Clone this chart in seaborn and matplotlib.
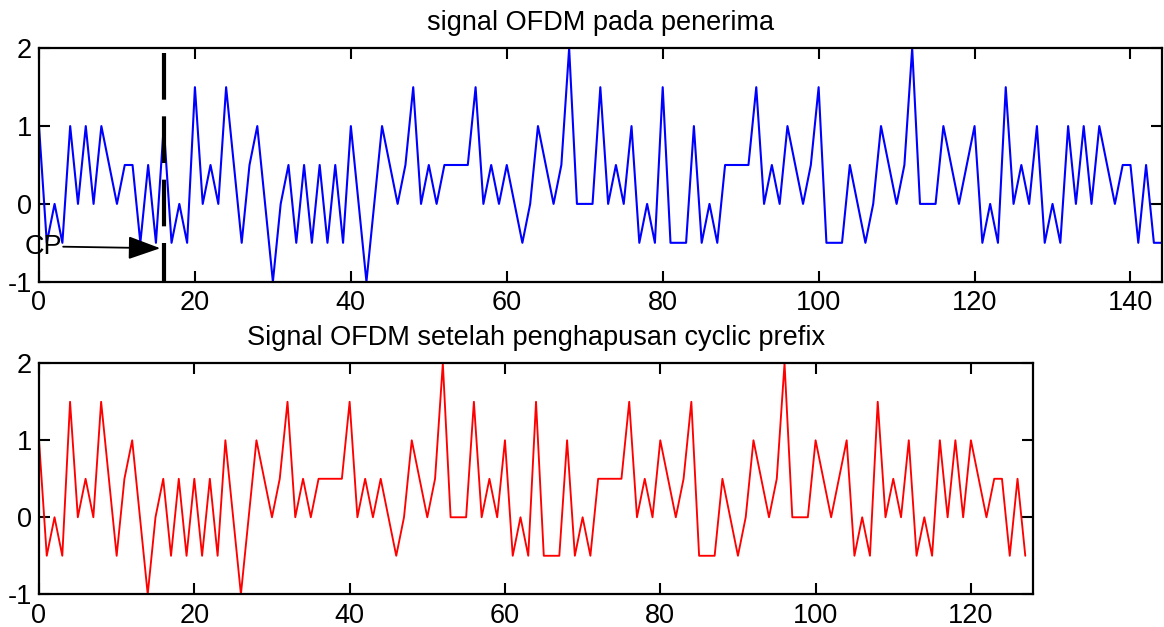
import numpy as np
import pandas as pd
import matplotlib
matplotlib.use("Agg")
import matplotlib.pyplot as plt
import seaborn as sns

# ---- data ----
rx_signal = [1, -0.5, 0, -0.5, 1, 0, 1, 0, 1, 0.5, 0, 0.5, 0.5, -0.5, 0.5, -0.5,
             1, -0.5, 0, -0.5, 1.5, 0, 0.5, 0, 1.5, 0.5, -0.5, 0.5, 1, 0, -1, 0,
             0.5, -0.5, 0.5, -0.5, 0.5, -0.5, 0.5, -0.5, 1, 0, -1, 0, 1, 0.5, 0, 0.5,
             1.5, 0, 0.5, 0, 0.5, 0.5, 0.5, 0.5, 1.5, 0, 0.5, 0, 0.5, 0, -0.5, 0,
             1, 0.5, 0, 0.5, 2, 0, 0, 0, 1.5, 0, 0.5, 0, 1, -0.5, 0, -0.5,
             1.5, -0.5, -0.5, -0.5, 1, -0.5, 0, -0.5, 0.5, 0.5, 0.5, 0.5, 1.5, 0, 0.5, 0,
             1, 0.5, 0, 0.5, 1.5, -0.5, -0.5, -0.5, 0.5, 0, -0.5, 0, 1, 0.5, 0, 0.5,
             2, 0, 0, 0, 1, 0.5, 0, 0.5, 1, -0.5, 0, -0.5, 1.5, 0, 0.5, 0,
             1, -0.5, 0, -0.5, 1, 0, 1, 0, 1, 0.5, 0, 0.5, 0.5, -0.5, 0.5, -0.5,
             -0.5]

signal_no_cp = [1, -0.5, 0, -0.5, 1.5, 0, 0.5, 0, 1.5, 0.5, -0.5, 0.5, 1, 0, -1, 0,
                0.5, -0.5, 0.5, -0.5, 0.5, -0.5, 0.5, -0.5, 1, 0, -1, 0, 1, 0.5, 0, 0.5,
                1.5, 0, 0.5, 0, 0.5, 0.5, 0.5, 0.5, 1.5, 0, 0.5, 0, 0.5, 0, -0.5, 0,
                1, 0.5, 0, 0.5, 2, 0, 0, 0, 1.5, 0, 0.5, 0, 1, -0.5, 0, -0.5,
                1.5, -0.5, -0.5, -0.5, 1, -0.5, 0, -0.5, 0.5, 0.5, 0.5, 0.5, 1.5, 0, 0.5, 0,
                1, 0.5, 0, 0.5, 1.5, -0.5, -0.5, -0.5, 0.5, 0, -0.5, 0, 1, 0.5, 0, 0.5,
                2, 0, 0, 0, 1, 0.5, 0, 0.5, 1, -0.5, 0, -0.5, 1.5, 0, 0.5, 0,
                1, -0.5, 0, -0.5, 1, 0, 1, 0, 1, 0.5, 0, 0.5, 0.5, -0.5, 0.5, -0.5]

cp_length = 16
top_xticks = [0, 20, 40, 60, 80, 100, 120, 140]
bottom_xticks = [0, 20, 40, 60, 80, 100, 120]
yticks = [-1, 0, 1, 2]
title_top = "signal OFDM pada penerima"
title_bottom = "Signal OFDM setelah penghapusan cyclic prefix"
cp_label = "CP"

# ---- style ----
sns.set_theme(style="white")
plt.rcParams['font.family'] = ['Liberation Sans', 'DejaVu Sans']
plt.rcParams['axes.unicode_minus'] = False
FS = 19.5

fig = plt.figure(figsize=(11.64, 6.27), dpi=100)
fig.patch.set_facecolor('white')
ax1 = fig.add_axes([0.0335, 0.5507, 0.9645, 0.3723])
ax2 = fig.add_axes([0.0335, 0.0522, 0.8540, 0.3684])

df1 = pd.DataFrame({"n": np.arange(len(rx_signal)), "v": rx_signal})
df2 = pd.DataFrame({"n": np.arange(len(signal_no_cp)), "v": signal_no_cp})

sns.lineplot(data=df1, x="n", y="v", ax=ax1, color=(0, 0, 1), lw=1.5,
             estimator=None, sort=False)
sns.lineplot(data=df2, x="n", y="v", ax=ax2, color=(1, 0, 0), lw=1.35,
             estimator=None, sort=False)

# CP boundary and arrow
ax1.plot([cp_length, cp_length], [1.94, -1], color='black', lw=3,
         dashes=(11.2, 4), solid_capstyle='butt', dash_capstyle='butt', zorder=3)
ax1.annotate("", xy=(cp_length - 0.45, -0.57), xytext=(3.1, -0.55),
             arrowprops=dict(arrowstyle='-|>,head_length=1.0,head_width=0.36',
                             mutation_scale=20, color='black', lw=1.3,
                             shrinkA=0, shrinkB=0),
             annotation_clip=False, zorder=4)
ax1.text(0.5, -0.55, cp_label, ha='center', va='center', fontsize=FS,
         color='black', zorder=5, clip_on=False)

for ax, xt, xmax, title in [(ax1, top_xticks, 144, title_top),
                            (ax2, bottom_xticks, 128, title_bottom)]:
    ax.set_xlim(0, xmax)
    ax.set_ylim(-1, 2)
    ax.set_xticks(xt)
    ax.set_xticklabels([str(t) for t in xt])
    ax.set_yticks(yticks)
    ax.set_yticklabels([str(t) for t in yticks])
    ax.set_xlabel("")
    ax.set_ylabel("")
    ax.set_facecolor('white')
    for s in ax.spines.values():
        s.set_visible(True)
        s.set_color('black')
        s.set_linewidth(1.6)
    ax.tick_params(axis='both', which='both', direction='in', length=8, width=1.5,
                   color='black', labelcolor='black', labelsize=FS,
                   top=True, right=True, bottom=True, left=True)
    ax.tick_params(axis='x', pad=6)
    ax.tick_params(axis='y', pad=5)
    ax.set_title(title, fontsize=FS, color='black', pad=13)
    ax.grid(False)

fig.savefig("out.png", dpi=100, facecolor='white')
